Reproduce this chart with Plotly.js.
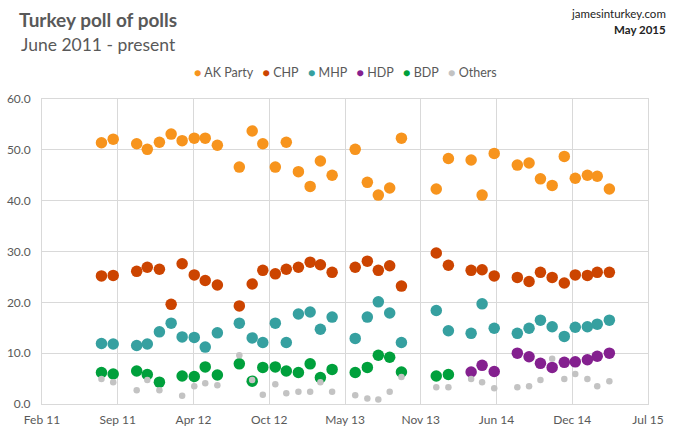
<!DOCTYPE html>
<html>
<head>
<meta charset="utf-8">
<script src="https://cdn.plot.ly/plotly-3.0.1.min.js"></script>
<style>
  body { margin: 0; background: #fff; }
  #chart { width: 680px; height: 440px; }
</style>
</head>
<body>
<div id="chart"></div>
<script>
// poll dates (roughly monthly)
var dates = ['2011-08-03','2011-09-03','2011-11-04','2011-12-02','2012-01-03','2012-02-03','2012-03-03','2012-04-04','2012-05-03','2012-06-04',
	'2012-08-01','2012-09-04','2012-10-02','2012-11-04','2012-12-03','2013-01-04','2013-02-04','2013-03-03','2013-04-03','2013-06-03',
	'2013-07-05','2013-08-03','2013-09-02','2013-10-03','2014-01-03','2014-02-04','2014-04-05','2014-05-04','2014-06-05','2014-08-05',
	'2014-09-05','2014-10-05','2014-11-05','2014-12-07','2015-01-05','2015-02-06','2015-03-04','2015-04-05'];

var akParty = [51.4, 52.1, 51.2, 50.1, 51.5, 53.1, 51.8, 52.3, 52.3, 50.9,
	46.6, 53.7, 51.2, 46.6, 51.5, 45.7, 42.8, 47.8, 45.0, 50.1,
	43.6, 41.1, 42.5, 52.3, 42.3, 48.3, 48.0, 41.1, 49.3, 47.0,
	47.4, 44.3, 43.0, 48.7, 44.4, 45.0, 44.8, 42.3];
var chp = [25.2, 25.3, 26.1, 26.9, 26.5, 19.6, 27.6, 25.4, 24.3, 23.4,
	19.3, 23.6, 26.3, 25.6, 26.5, 26.9, 27.9, 27.4, 25.9, 26.9,
	28.1, 26.3, 27.2, 23.2, 29.7, 27.3, 26.3, 26.4, 25.2, 24.9,
	24.1, 25.9, 24.9, 23.8, 25.4, 25.3, 25.9, 25.9];
var mhp = [11.9, 11.8, 11.5, 11.8, 14.2, 15.9, 13.2, 13.1, 11.2, 14.0,
	15.9, 13.0, 12.1, 15.9, 12.1, 17.7, 18.1, 14.7, 17.1, 12.9,
	17.1, 20.1, 17.9, 12.1, 18.4, 14.4, 13.9, 19.7, 14.9, 13.9,
	14.9, 16.5, 15.2, 13.3, 15.1, 15.2, 15.7, 16.5];
var hdp = [null, null, null, null, null, null, null, null, null, null,
	null, null, null, null, null, null, null, null, null, null,
	null, null, null, null, null, null, 6.3, 7.6, 6.4, 10.0,
	9.3, 8.0, 7.2, 8.2, 8.3, 8.7, 9.4, 10.0];
var bdp = [6.2, 5.9, 6.5, 5.8, 4.3, null, 5.5, 5.4, 7.3, 5.7,
	7.9, 4.5, 7.2, 7.3, 6.5, 6.2, 7.9, 5.2, 6.8, 6.2,
	7.2, 9.6, 9.2, 6.3, 5.5, 5.8, null, null, null, null,
	null, null, null, null, null, null, null, null];
var others = [4.9, 4.3, 2.7, 4.7, 2.7, null, 1.6, 3.5, 4.1, 3.7,
	9.6, 4.7, 1.8, 3.9, 2.1, 2.4, 2.4, 4.3, 2.4, 1.7,
	1.1, 0.9, 2.4, 5.3, 3.3, 3.3, 4.9, 4.3, 3.1, 3.3,
	3.5, 4.7, 8.9, 4.9, 5.9, 4.9, 3.5, 4.5];

var names = ['AK Party', 'CHP', 'MHP', 'HDP', 'BDP', 'Others'];
var series = [akParty, chp, mhp, hdp, bdp, others];

var colors = ['#F7941D', '#CC4400', '#36A0A0', '#84208F', '#00A03C', '#C3C3C3'];
var sizes = [11.5, 11.5, 11.5, 11.5, 11.5, 6.5];

var txt = '#595959';
var grid = '#d9d9d9';
var fnt = 'Lato, "Open Sans", sans-serif';

var data = series.map(function (vals, i) {
	return {
		x: dates,
		y: vals,
		name: names[i],
		type: 'scatter',
		mode: 'markers',
		showlegend: false,
		marker: { color: colors[i], size: sizes[i], line: { width: 0 } },
		hoverinfo: 'x+y+name'
	};
});

// legend drawn as one line of text
var legendText = names.map(function (n, i) {
	return '<span style="color:' + colors[i] + '">●</span> ' + n;
}).join('&nbsp;&nbsp;&nbsp;');

var DAY = 86400000;

var layout = {
	width: 680,
	height: 440,
	margin: { l: 42, r: 32, t: 99, b: 36 },
	paper_bgcolor: '#fff',
	plot_bgcolor: '#fff',
	font: { family: fnt, color: txt, size: 12 },
	showlegend: false,
	title: {
		text: '<b>Turkey poll of polls</b>',
		font: { family: fnt, size: 19, color: txt },
		xref: 'container', yref: 'container',
		x: 19 / 680, xanchor: 'left',
		y: 1 - 20 / 440, yanchor: 'middle'
	},
	xaxis: {
		type: 'date',
		range: ['2011-02-27', '2015-07-16 00:30'],
		tick0: '2011-02-27',
		dtick: 200 * DAY,
		tickformat: '%b %y',
		showgrid: true, gridcolor: grid,
		showline: true, mirror: true, linecolor: grid,
		zeroline: false,
		ticks: 'outside', ticklen: 5, tickcolor: 'rgba(0,0,0,0)',
		tickfont: { size: 12, color: txt },
		fixedrange: true
	},
	yaxis: {
		range: [0, 60],
		dtick: 10,
		tickformat: '.1f',
		showgrid: true, gridcolor: grid,
		showline: true, mirror: true, linecolor: grid,
		zeroline: false,
		ticks: 'outside', ticklen: 8, tickcolor: 'rgba(0,0,0,0)',
		tickfont: { size: 12, color: txt },
		fixedrange: true
	},
	annotations: [
		{
			text: 'June 2011 - present',
			xref: 'paper', yref: 'paper',
			x: (19 - 42) / 606, xanchor: 'left',
			y: (404 - 44) / 305, yanchor: 'middle',
			showarrow: false,
			font: { family: fnt, size: 17.5, color: txt }
		},
		{
			text: 'jamesinturkey.com',
			xref: 'paper', yref: 'paper',
			x: (668 - 42) / 606, xanchor: 'right',
			y: (404 - 14) / 305, yanchor: 'middle',
			showarrow: false,
			font: { family: fnt, size: 11.5, color: '#222' }
		},
		{
			text: '<b>May 2015</b>',
			xref: 'paper', yref: 'paper',
			x: (668 - 42) / 606, xanchor: 'right',
			y: (404 - 30) / 305, yanchor: 'middle',
			showarrow: false,
			font: { family: fnt, size: 11.5, color: '#222' }
		},
		{
			text: legendText,
			xref: 'paper', yref: 'paper',
			x: 0.5, xanchor: 'center',
			y: (404 - 72) / 305, yanchor: 'middle',
			showarrow: false,
			font: { family: fnt, size: 12.5, color: txt }
		}
	]
};

var config = { displayModeBar: false };

Plotly.newPlot('chart', data, layout, config);
</script>
</body>
</html>
